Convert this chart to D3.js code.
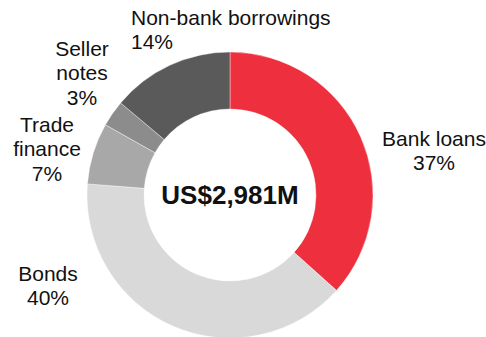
<!DOCTYPE html>
<html>
<head>
<meta charset="utf-8">
<script src="https://cdn.jsdelivr.net/npm/d3@7"></script>
<style>
  html, body { margin: 0; padding: 0; background: #fff; }
  svg { display: block; }
  text { font-family: "Liberation Sans", Arial, sans-serif; fill: #111; }
</style>
</head>
<body>
<svg id="chart" width="486" height="337"></svg>
<script>
// Funding mix (% of total debt)
const categories = ["Bank loans", "Bonds", "Trade finance", "Seller notes", "Non-bank borrowings"];
const shares = [37, 40, 7, 3, 14];
const totalLabel = "US$2,981M";

const colors = ["#EE2F3E", "#D9D9D9", "#A8A8A8", "#8C8C8C", "#5A5A5A"];

// Label block layout: anchor point, alignment and line breaks for each category
const labelLayout = {
  "Bank loans":          { x: 434, y: 146, anchor: "middle", lines: ["Bank loans"] },
  "Bonds":               { x: 48,  y: 281, anchor: "middle", lines: ["Bonds"] },
  "Trade finance":       { x: 47,  y: 132, anchor: "middle", lines: ["Trade", "finance"] },
  "Seller notes":        { x: 82,  y: 56,  anchor: "middle", lines: ["Seller", "notes"] },
  "Non-bank borrowings": { x: 131, y: 25,  anchor: "start",  lines: ["Non-bank borrowings"] }
};

const svg = d3.select("#chart");
const cx = 230, cy = 195, outerR = 143, innerR = 86;
const lineH = 24.3;

const data = categories.map((c, i) => ({ name: c, value: shares[i], color: colors[i] }));

const pie = d3.pie().value(d => d.value).sort(null);
const arc = d3.arc().innerRadius(innerR).outerRadius(outerR);

const g = svg.append("g").attr("transform", `translate(${cx},${cy})`);
g.selectAll("path")
  .data(pie(data))
  .join("path")
  .attr("d", arc)
  .attr("fill", d => d.data.color)
  .attr("stroke", "#fff")
  .attr("stroke-width", 0.4);

g.append("text")
  .attr("text-anchor", "middle")
  .attr("y", 9)
  .style("font-size", "26px")
  .style("font-weight", "bold")
  .text(totalLabel);

data.forEach(d => {
  const L = labelLayout[d.name];
  const t = svg.append("text")
    .attr("text-anchor", L.anchor)
    .style("font-size", "21px");
  const lines = L.lines.concat([d.value + "%"]);
  lines.forEach((ln, i) => {
    t.append("tspan").attr("x", L.x).attr("y", L.y + i * lineH).text(ln);
  });
});
</script>
</body>
</html>
